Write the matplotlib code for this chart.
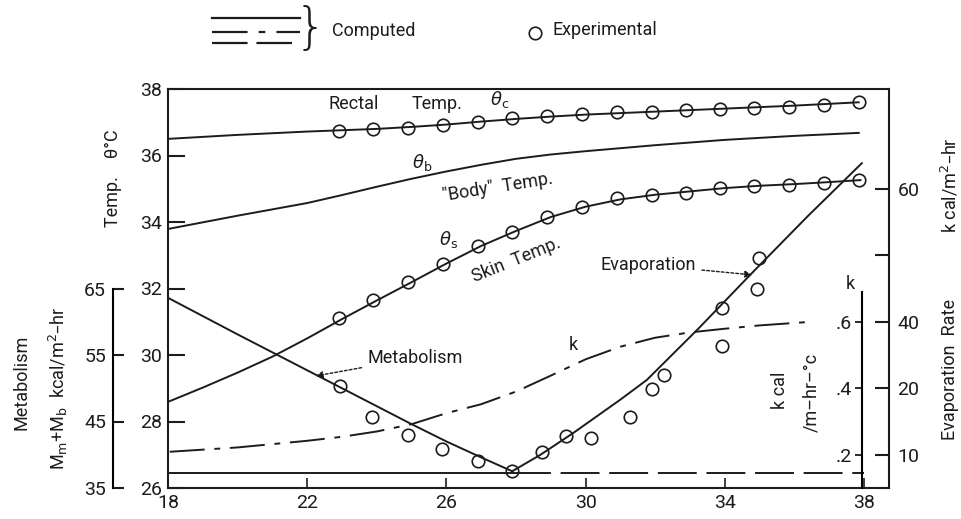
import numpy as np
import matplotlib.pyplot as plt
from matplotlib.lines import Line2D

plt.rcParams['font.family'] = ['Roboto', 'DejaVu Sans']
plt.rcParams['mathtext.fontset'] = 'dejavusans'
INK = '#1c1c1c'
FS = 13
TFS = 14

# ambient temperature where the experimental points were taken
x_exp = [22.9, 23.9, 24.9, 25.9, 26.9, 27.9, 28.9, 29.9, 30.9, 31.9,
         32.9, 33.85, 34.85, 35.85, 36.85, 37.85]
rectal_exp = [36.74, 36.79, 36.82, 36.92, 37.02, 37.12, 37.19, 37.24, 37.30, 37.32,
              37.37, 37.39, 37.42, 37.47, 37.52, 37.60]
skin_exp = [31.10, 31.65, 32.20, 32.73, 33.28, 33.71, 34.16, 34.46, 34.73, 34.81,
            34.88, 35.03, 35.09, 35.11, 35.18, 35.26]

# computed temperatures (deg C)
rectal_x = [18, 20, 22, 24, 25, 26, 27, 28, 29, 30, 32, 34, 36, 37.85]
rectal = [36.50, 36.62, 36.72, 36.80, 36.86, 36.93, 37.02, 37.10, 37.17, 37.23,
          37.32, 37.41, 37.50, 37.60]
body_x = [18, 20, 22, 23, 24, 25, 26, 27, 28, 29, 30, 31, 32, 34, 36, 37.85]
body = [33.79, 34.19, 34.57, 34.81, 35.06, 35.30, 35.52, 35.72, 35.90, 36.03, 36.13,
        36.22, 36.31, 36.47, 36.59, 36.68]
skin_x = [18, 19, 20, 21, 22, 23, 24, 25, 26, 27, 28, 29, 30, 31, 32, 33, 34, 35, 36, 37, 37.9]
skin = [28.59, 29.02, 29.47, 29.95, 30.50, 31.08, 31.64, 32.19, 32.75, 33.28, 33.73, 34.15,
        34.46, 34.68, 34.82, 34.92, 35.02, 35.09, 35.14, 35.20, 35.26]

# metabolism (kcal/m2-hr)
met_x = [18, 20, 22, 23, 24, 25, 26, 27, 27.9]
met = [63.6, 58.1, 52.7, 50.0, 47.3, 44.6, 42.0, 39.6, 37.5]
met_exp_x = [22.94, 23.85, 24.9, 25.86, 26.92, 27.9]
met_exp = [50.4, 45.7, 43.0, 40.8, 39.1, 37.6]
basal_level = 37.3

# evaporation rate (kcal/m2-hr)
evap_x = [27.9, 28.69, 29.64, 30.99, 31.76, 33.23, 34.87, 36.39, 37.94]
evap = [7.55, 9.95, 13.25, 18.25, 22.5, 37.8, 47.8, 55.9, 63.85]
evap_exp_x = [28.76, 29.45, 30.17, 31.28, 31.92, 32.26, 33.93, 33.93, 34.94, 34.97]
evap_exp = [10.4, 12.8, 12.5, 15.7, 19.9, 24.0, 32.7, 42.0, 44.9, 49.6]
# evaporation axis as printed: tick values and the temperature level they sit at
evap_ticks = [-10, 10, 20, 40, 50, 60, 100]
evap_at_temp = [23, 27, 29, 31, 33, 35, 43]

# conductance k (kcal/m-hr-C)
k_x = [18.05, 20, 22, 23, 24, 25, 26, 27, 28, 29, 30, 31, 32, 33, 34, 35, 36.5]
k_val = [0.209, 0.222, 0.242, 0.254, 0.27, 0.292, 0.325, 0.352, 0.39, 0.438, 0.487,
         0.525, 0.552, 0.568, 0.579, 0.589, 0.60]

W, H = 962, 519
fig = plt.figure(figsize=(W / 100, H / 100), dpi=100)
ax = fig.add_axes([168 / W, 1 - 488 / H, 721 / W, 399 / H])
ax.set_xlim(18, 38.72)
ax.set_ylim(26, 38)

lw = 1.4
mk = dict(marker='o', ms=9, mfc='none', mec=INK, mew=1.2, ls='none')

ax.plot(rectal_x, rectal, color=INK, lw=lw)
ax.plot(body_x, body, color=INK, lw=lw)
ax.plot(skin_x, skin, color=INK, lw=lw)
ax.plot(x_exp, rectal_exp, **mk)
ax.plot(x_exp, skin_exp, **mk)

for s in ax.spines.values():
    s.set_linewidth(1.5)
    s.set_color(INK)
ax.set_yticks(range(26, 39, 2))
ax.set_xticks([18, 22, 26, 30, 34, 38])
ax.tick_params(axis='y', direction='in', length=12, width=1.5, labelsize=TFS, pad=4, colors=INK)
ax.tick_params(axis='x', direction='in', length=7, width=1.2, labelsize=TFS, pad=4, colors=INK)

# metabolism axis
axm = ax.twinx()
axm.set_ylim(35, 95)
for n, s in axm.spines.items():
    s.set_visible(n == 'left')
axm.spines['left'].set_position(('axes', (113 - 168) / 721))
axm.spines['left'].set_bounds(35, 65)
axm.spines['left'].set_linewidth(1.5)
axm.yaxis.tick_left()
axm.set_yticks([35, 45, 55, 65])
axm.tick_params(axis='y', direction='in', length=8, width=1.5, labelsize=TFS, pad=5, colors=INK)
axm.plot(met_x, met, color=INK, lw=lw)
axm.plot(met_exp_x, met_exp, **mk)
axm.plot([18, met_x[-1]], [basal_level, basal_level], color=INK, lw=lw)
axm.plot([met_x[-1], 38], [basal_level, basal_level], color=INK, lw=lw, dashes=(20, 5))

# evaporation axis
def fwd(v):
    return np.interp(v, evap_ticks, evap_at_temp)

def inv(v):
    return np.interp(v, evap_at_temp, evap_ticks)

axe = ax.twinx()
axe.set_yscale('function', functions=(fwd, inv))
axe.set_ylim(inv(26), inv(38))
for s in axe.spines.values():
    s.set_visible(False)
axe.set_yticks([10, 20, 40, 50, 60])
axe.set_yticklabels(['10', '20', '40', '', '60'])
axe.yaxis.set_minor_locator(plt.NullLocator())
axe.tick_params(axis='y', direction='in', length=10, width=1.5, labelsize=TFS, pad=6, colors=INK)
axe.plot(evap_x, evap, color=INK, lw=lw)
axe.plot(evap_exp_x, evap_exp, **mk)

# k axis
axk = ax.twinx()
axk.set_ylim(0.1, 1.3)
for n, s in axk.spines.items():
    s.set_visible(n == 'left')
axk.spines['left'].set_position(('data', 37.94))
axk.spines['left'].set_bounds(0.1, 0.69)
axk.spines['left'].set_linewidth(1.5)
axk.yaxis.tick_left()
axk.set_yticks([0.2, 0.4, 0.6])
axk.set_yticklabels(['.2', '.4', '.6'])
axk.tick_params(axis='y', direction='out', length=5, width=1.3, labelsize=TFS, pad=2, colors=INK)
axk.plot(k_x, k_val, color=INK, lw=lw, dashes=(18, 5, 3, 5))

# curve labels
tk = dict(fontsize=FS, color=INK)
ax.text(22.6, 37.55, 'Rectal', va='center', **tk)
ax.text(25.0, 37.55, 'Temp.', va='center', **tk)
ax.text(27.25, 37.67, r'$\theta_\mathrm{c}$', va='center', **tk)
ax.text(25.0, 35.78, r'$\theta_\mathrm{b}$', va='center', **tk)
ax.text(27.48, 35.05, '"Body"  Temp.', ha='center', va='center', rotation=9, **tk)
ax.text(26.05, 33.46, r'$\theta_\mathrm{s}$', ha='center', va='center', **tk)
ax.text(28.0, 32.86, 'Skin  Temp.', ha='center', va='center', rotation=22, **tk)
arrow = dict(arrowstyle='-|>', color=INK, lw=1.0, ls=(0, (2, 1.5)), mutation_scale=10, shrinkA=2, shrinkB=0)
ax.annotate('Evaporation', xy=(34.78, 32.41), xytext=(30.44, 32.71), va='center',
            arrowprops=arrow, **tk)
ax.annotate('Metabolism', xy=(22.25, 29.37), xytext=(23.72, 29.91), va='center',
            arrowprops=arrow, **tk)
ax.text(29.64, 30.3, 'k', ha='center', va='center', **tk)
ax.text(37.6, 32.14, 'k', ha='center', va='center', **tk)
ax.text(35.59, 28.95, 'k cal', ha='center', va='center', rotation=90, **tk)
ax.text(36.5, 28.86, '/m–hr–°c', ha='center', va='center', rotation=90, **tk)

# axis titles
def fxy(px, py):
    return px / W, 1 - py / H

fig.text(*fxy(113, 178), 'Temp.    θ°C', rotation=90, ha='center', va='center', **tk)
fig.text(*fxy(22, 382), 'Metabolism', rotation=90, ha='center', va='center', **tk)
fig.text(*fxy(58, 388), r'M$_\mathrm{m}$+M$_\mathrm{b}$  kcal/m$^2$–hr', rotation=90,
         ha='center', va='center', **tk)
fig.text(*fxy(950, 185), r'k cal/m$^2$–hr', rotation=90, ha='center', va='center', **tk)
fig.text(*fxy(950, 370), 'Evaporation  Rate', rotation=90, ha='center', va='center', **tk)

# key at the top
def key_line(py, **kw):
    x0, y0 = fxy(212, py)
    x1, _ = fxy(300, py)
    fig.add_artist(Line2D([x0, x1], [y0, y0], transform=fig.transFigure, color=INK, lw=1.6, **kw))

key_line(18)
key_line(32, dashes=(16, 5, 3, 5))
key_line(43, dashes=(16, 4))
fig.text(*fxy(310, 29), '}', fontsize=36, ha='center', va='center', color=INK,
         family='DejaVu Sans', fontweight='light')
fig.text(*fxy(332, 31), 'Computed', va='center', **tk)
cx, cy = fxy(535, 33)
fig.add_artist(Line2D([cx], [cy], transform=fig.transFigure, **mk))
fig.text(*fxy(552, 30), 'Experimental', va='center', **tk)

fig.savefig('out.png', dpi=100)
